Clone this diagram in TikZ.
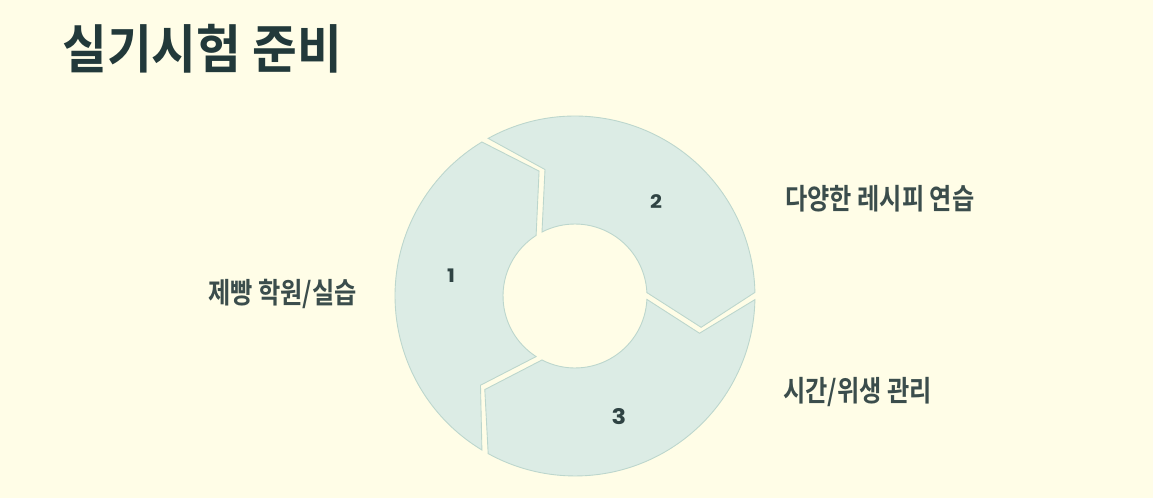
\documentclass[tikz,border=0pt]{standalone}
\usepackage{fontspec}
\usetikzlibrary{calc}
\setmainfont{Noto Sans CJK KR}
\newfontfamily\krtitle[FakeStretch=0.93]{Noto Sans CJK KR Bold}
\newfontfamily\krlabel[FakeStretch=0.84]{Noto Sans CJK KR Bold}
\newfontfamily\numfont[FakeStretch=1.12]{Poppins}
\definecolor{bgc}{HTML}{FFFDE7}
\definecolor{segfill}{HTML}{DCECE5}
\definecolor{segline}{HTML}{BCD6CD}
\definecolor{titlec}{HTML}{22393A}
\definecolor{labelc}{HTML}{3B4D4C}
\definecolor{numc}{HTML}{2F4343}
\tikzset{
  segment/.style={fill=segfill, draw=segline, line width=0.5pt, line join=miter},
  titletext/.style={inner sep=0pt, text=titlec, font=\krtitle\fontsize{29.8pt}{33pt}\selectfont},
  labeltext/.style={inner sep=0pt, text=labelc, font=\krlabel\fontsize{16.4pt}{19pt}\selectfont},
  numtext/.style={inner sep=0pt, text=numc, font=\numfont\bfseries\fontsize{10.6pt}{12pt}\selectfont}
}
\def\Rout{3.6cm}
\def\Rin{1.44cm}
\def\Rmid{2.6cm}
\begin{document}
\begin{tikzpicture}[x=0.02cm,y=0.02cm]
\fill[bgc] (0,0) rectangle (1153,498);
\useasboundingbox (0,0) rectangle (1153,498);
\coordinate (c) at (575,202);
\foreach \bt in {240,120,360}{
  \draw[segment]
    ($(c)+(\bt-1.15:\Rout)$) arc[start angle=\bt-1.15, end angle=\bt-118.85, radius=\Rout]
    -- ($(c)+(\bt-120-15.3+1.35:\Rmid)$)
    -- ($(c)+(\bt-120+2.7:\Rin)$) arc[start angle=\bt-117.3, end angle=\bt-2.7, radius=\Rin]
    -- ($(c)+(\bt-15.3-1.35:\Rmid)$) -- cycle;
}
\node[titletext, anchor=west] (title) at (62,449) {실기시험 준비};
\node[labeltext, anchor=west] (l2) at (785,299) {다양한 레시피 연습};
\node[labeltext, anchor=east] (l1) at (357,204) {제빵 학원/실습};
\node[labeltext, anchor=west] (l3) at (783,106) {시간/위생 관리};
\node[numtext] (n1) at (451,222) {1};
\node[numtext] (n2) at (656,296) {2};
\node[numtext, font=\numfont\bfseries\fontsize{12.2pt}{14pt}\selectfont] (n3) at (619,81) {3};
\end{tikzpicture}
\end{document}
